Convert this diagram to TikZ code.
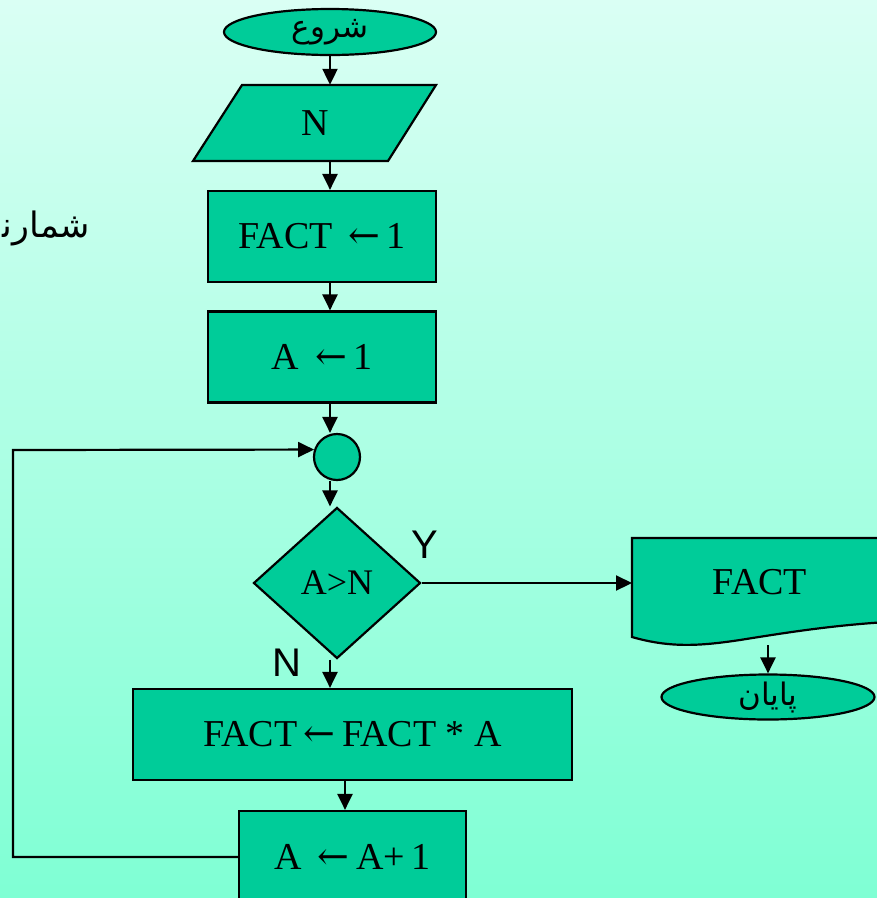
\documentclass[tikz,border=0pt]{standalone}
\usepackage{fontspec}
\setmainfont{Liberation Serif}
\newfontfamily\arabicfont[Script=Arabic]{DejaVu Sans}
\newfontfamily\labelfont{Liberation Sans}
\newfontfamily\arrowfont{DejaVu Serif}
\TeXXeTstate=1
\usetikzlibrary{shapes.geometric,arrows.meta,calc}
\definecolor{fillc}{RGB}{0,204,153}
\definecolor{bgtop}{RGB}{218,255,244}
\definecolor{bgbot}{RGB}{127,255,212}
\newcommand{\la}{{\arrowfont ←}}
\begin{document}
\begin{tikzpicture}[x=1pt,y=-1pt,
  shp/.style={draw=black,line width=2.2pt,fill=fillc,inner sep=0pt},
  box/.style={shp,rectangle,font=\fontsize{38}{44}\selectfont},
  term/.style={shp,ellipse,font=\arabicfont\fontsize{31}{36}\selectfont},
  plain/.style={inner sep=0pt,font=\fontsize{38}{44}\selectfont},
  lbl/.style={inner sep=0pt,font=\labelfont\fontsize{40}{46}\selectfont},
  arr/.style={line width=2.2pt,-{Triangle[length=16pt,width=15pt]}},
  ln/.style={line width=2.2pt}]
\useasboundingbox (0,0) rectangle (877,898);
\shade[top color=bgtop,bottom color=bgbot] (0,0) rectangle (877,898);
\begin{scope}
\clip (0,0) rectangle (877,898);
% side text
\node[inner sep=0pt,anchor=east,font=\arabicfont\fontsize{35}{40}\selectfont] (side) at (90,228) {\beginR شمارن‍\endR};
% start
\node[term,minimum width=212pt,minimum height=46pt] (start) at (330,32) {\beginR شروع\endR};
% input
\filldraw[shp] (242,85) -- (436,85) -- (388,161) -- (193,161) -- cycle;
\node[plain,minimum width=150pt,minimum height=76pt] (in) at (314.75,123) {N};
% boxes
\node[box,minimum width=228pt,minimum height=91pt] (b1) at (322,236.5) {FACT \,\la\,1};
\node[box,minimum width=228pt,minimum height=91pt] (b2) at (322,357) {A \,\la\,1};
% connector
\node[shp,circle,minimum size=46pt] (con) at (337,457) {};
% decision
\node[shp,diamond,minimum width=167pt,minimum height=151pt,font=\fontsize{36}{42}\selectfont] (dec) at (337,583) {A>N};
\node[lbl] (ylab) at (425,545) {Y};
\node[lbl] (nlab) at (287,663) {N};
% process boxes
\node[box,minimum width=439pt,minimum height=91pt] (b3) at (352.5,734.5) {FACT\,\la\,FACT * A};
\node[box,minimum width=227pt,minimum height=92pt] (b4) at (352.5,857) {A \,\la\,A+\,1};
% document
\filldraw[shp] (632,538) -- (905,538) -- (905,621)
  .. controls (840,624) and (790,632) .. (740,640)
  .. controls (700,646) and (670,648) .. (632,637) -- cycle;
\node[plain] (doc) at (760,582) {FACT};
\coordinate (docl) at (632,583);
\coordinate (docb) at (768,645);
% end
\node[term,minimum width=213pt,minimum height=45pt] (stop) at (768,697) {\beginR پایان\endR};
% connectors
\coordinate (cx) at (330,0);
\draw[arr] (start.south -| cx) -- (in.north -| cx);
\draw[arr] (in.south -| cx) -- (b1.north -| cx);
\draw[arr] (b1.south -| cx) -- (b2.north -| cx);
\draw[arr] (b2.south -| cx) -- (con.north -| cx);
\draw[arr] (con.south -| cx) -- (dec.north -| cx);
\draw[arr] (dec.east) -- (docl);
\draw[arr] (dec.south -| cx) -- (b3.north -| cx);
\draw[arr] (b3.south -| 345,0) -- (b4.north -| 345,0);
\draw[arr] (docb) -- (stop.north);
\draw[arr] (b4.west) -- (13,857) -- (13,450) -- (con.162);
\end{scope}
\end{tikzpicture}
\end{document}
